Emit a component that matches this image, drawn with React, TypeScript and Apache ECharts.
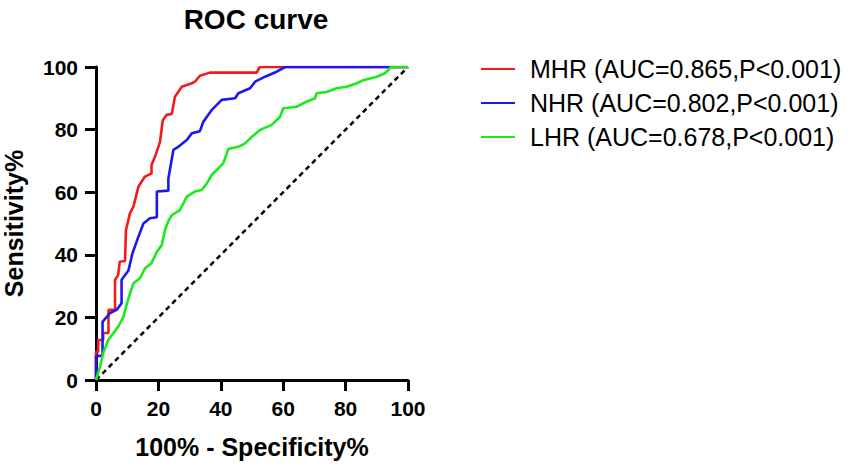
import React, { useEffect, useRef } from "react";
import * as echarts from "echarts";

// ROC points: [100% - Specificity%, Sensitivity%]
const mhrPoints: [number, number][] = [
  [0, 0], [0, 9], [0.7, 9], [0.7, 12.8], [2.3, 12.8], [2.3, 15], [4, 15], [4, 22.4],
  [6.1, 22.4], [6.1, 32], [7.1, 33.5], [7.6, 37.8], [9.3, 38], [9.6, 47.9], [10.9, 53.3],
  [12, 55.4], [13.6, 61.8], [15.7, 65], [17.8, 66], [17.8, 68.7], [18.9, 71.3], [20.5, 76],
  [21.4, 83], [22.6, 84.7], [24.3, 85], [25.3, 90.5], [27.5, 93.7], [30.7, 94.8],
  [31.7, 95.3], [33.3, 97.2], [36.5, 98.2], [51.5, 98.2], [52.5, 100], [100, 100],
];
const nhrPoints: [number, number][] = [
  [0, 0], [0, 7.7], [2.1, 7.7], [2.1, 18.6], [4.5, 21.4], [6.6, 22.4], [8.2, 24.5],
  [8.2, 32], [10.4, 35], [11.7, 40.5], [13.6, 45.8], [15.2, 50], [17.3, 51.7], [19.5, 52],
  [19.5, 60.2], [23.2, 60.5], [23.2, 64.4], [24.8, 73.5], [26.4, 74.5], [29.1, 76.7],
  [30.7, 78.8], [33.3, 79.5], [34.4, 82.5], [37.1, 86.3], [40.3, 89.5], [44.6, 90],
  [45.6, 91.6], [49.4, 93.2], [51, 95.3], [54.2, 96.9], [57.9, 98.5], [60.6, 100], [100, 100],
];
const lhrPoints: [number, number][] = [
  [0, 0], [1.3, 4.3], [2.3, 8.5], [3.9, 12.8], [5.5, 14.9], [7.1, 17], [8.8, 20.2],
  [9.8, 24], [10.9, 27.7], [12, 30.9], [14.1, 32.5], [15.7, 35.7], [17.8, 37.3], [19.5, 41],
  [21.1, 43.1], [22.1, 47.9], [23.2, 50.8], [24.3, 52.7], [26.9, 54.3], [29.1, 58.6],
  [31.7, 60.2], [33.9, 60.7], [35.5, 62.8], [37.1, 65.5], [39.2, 67.6], [40.8, 69.2],
  [42.4, 73.8], [45.6, 74.5], [47.8, 75.6], [49.4, 77.2], [52.6, 79.9], [56.3, 81.5],
  [59, 84.1], [60, 86.8], [64.3, 87.3], [66.4, 88.4], [70.2, 90], [70.7, 91.6], [73.9, 92],
  [77.1, 93.2], [80.3, 93.7], [83.6, 94.8], [85.7, 95.8], [90, 96.9], [92.6, 98],
  [94.2, 99.6], [94.5, 100], [100, 100],
];
const referencePoints: [number, number][] = [[0, 0], [100, 100]];

const seriesNames = [
  "MHR (AUC=0.865,P<0.001)",
  "NHR (AUC=0.802,P<0.001)",
  "LHR (AUC=0.678,P<0.001)",
];
const seriesColors = ["#f51a1a", "#1a1af0", "#1aeb1a"];
const axisTicks = [0, 20, 40, 60, 80, 100];

const FONT = "'Liberation Sans', Arial, sans-serif";

export default function App() {
  const ref = useRef<HTMLDivElement>(null);
  useEffect(() => {
    document.body.style.margin = "0";
    if (!ref.current) return;
    const chart = echarts.init(ref.current, undefined, { renderer: "svg" });
    const axisCommon = {
      type: "value" as const,
      min: axisTicks[0],
      max: axisTicks[axisTicks.length - 1],
      interval: axisTicks[1] - axisTicks[0],
      splitLine: { show: false },
      axisLine: { show: true, lineStyle: { color: "#000", width: 3 } },
      axisTick: { show: true, length: 11, lineStyle: { color: "#000", width: 3 } },
      axisLabel: {
        color: "#000",
        fontSize: 21,
        fontWeight: "bold" as const,
        fontFamily: FONT,
        margin: 18,
      },
      nameLocation: "middle" as const,
      nameTextStyle: {
        color: "#000",
        fontSize: 25,
        fontWeight: "bold" as const,
        fontFamily: FONT,
      },
    };
    chart.setOption({
      animation: false,
      title: {
        text: "ROC curve",
        left: 251,
        top: 0,
        textAlign: "center",
        textStyle: { color: "#000", fontSize: 28, fontWeight: "bold", fontFamily: FONT },
      },
      legend: {
        orient: "vertical",
        left: 476,
        top: 51,
        itemWidth: 34,
        itemHeight: 2,
        itemGap: 8,
        icon: "rect",
        data: seriesNames,
        textStyle: {
          color: "#000",
          fontSize: 25,
          fontFamily: FONT,
          lineHeight: 26,
          padding: [0, 0, 0, 10],
        },
      },
      grid: { left: 96, right: 448, top: 67, bottom: 89, containLabel: false },
      xAxis: { ...axisCommon, name: "100% - Specificity%", nameGap: 54 },
      yAxis: { ...axisCommon, name: "Sensitivity%", nameGap: 70 },
      series: [
        {
          type: "line",
          name: "reference",
          data: referencePoints,
          symbol: "none",
          silent: true,
          lineStyle: { color: "#000", width: 2.5, type: [5, 4] },
        },
        {
          type: "line",
          name: seriesNames[0],
          data: mhrPoints,
          symbol: "none",
          lineStyle: { color: seriesColors[0], width: 2.6 },
          itemStyle: { color: seriesColors[0] },
        },
        {
          type: "line",
          name: seriesNames[1],
          data: nhrPoints,
          symbol: "none",
          lineStyle: { color: seriesColors[1], width: 2.6 },
          itemStyle: { color: seriesColors[1] },
        },
        {
          type: "line",
          name: seriesNames[2],
          data: lhrPoints,
          symbol: "none",
          lineStyle: { color: seriesColors[2], width: 2.6 },
          itemStyle: { color: seriesColors[2] },
        },
      ],
    });
    return () => chart.dispose();
  }, []);
  return <div ref={ref} style={{ width: 856, height: 469 }} />;
}
